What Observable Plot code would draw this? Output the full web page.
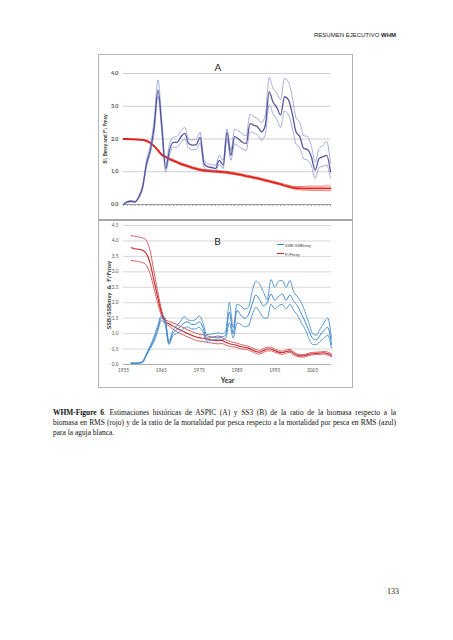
<!DOCTYPE html>
<html>
<head>
<meta charset="utf-8">
<script src="https://cdn.jsdelivr.net/npm/d3@7"></script>
<script src="https://cdn.jsdelivr.net/npm/@observablehq/plot@0.6"></script>
<style>
  html, body { margin:0; padding:0; background:#fff; }
  body { width:453px; height:640px; position:relative; overflow:hidden; }
  .abs { position:absolute; }
  #header { right:57px; top:32px; font-family:"Liberation Sans", Arial, sans-serif; font-size:6px; color:#222; white-space:nowrap; }
  #frame { left:98px; top:54px; width:253px; height:332px; border:1px solid #b4b4b4; }
  #divider { left:98px; top:219px; width:255px; height:2px; background:#a8a8a8; }
  #panelA { left:98px; top:54px; }
  #panelB { left:98px; top:220px; }
  #legend { left:277px; top:240px; font-family:Lato, sans-serif; font-size:4.6px; color:#444; }
  .lg { display:flex; align-items:center; height:9px; }
  .lg span.sw { display:inline-block; width:7px; height:0; margin-right:1px; }
  #caption { left:53px; top:408px; width:343px; font-family:"Liberation Serif", "Times New Roman", serif; font-size:7.45px; line-height:10px; color:#111; }
  #caption div { text-align:justify; text-align-last:justify; white-space:nowrap; }
  #caption div.last { text-align-last:left; }
  #pagenum { left:387px; top:587px; font-family:"Liberation Serif", serif; font-size:8px; color:#222; }
</style>
</head>
<body>
<div id="header" class="abs">RESUMEN EJECUTIVO <b>WHM</b></div>
<div id="frame" class="abs"></div>
<div id="panelA" class="abs"></div>
<div id="panelB" class="abs"></div>
<div id="divider" class="abs"></div>
<div id="legend" class="abs"></div>
<div id="caption" class="abs"></div>
<div id="pagenum" class="abs">133</div>
<script>
// ---------- Panel A (ASPIC) ----------
const firstYearA = 1956, lastYearA = 2010;
const titleA = "A";
const yLabelA = "B\\ Bmsy and F\\ Fmsy";
const yTicksA = [0, 1, 2, 3, 4];
const bioA = [0.0,0.08,0.1,0.08,0.23,0.54,1.25,1.66,2.37,3.49,
  2.37,1.1,1.66,1.9,1.9,2.07,2.17,1.86,1.81,1.83,
  2.05,1.25,1.15,1.13,1.1,1.35,1.2,2.2,1.5,2.07,
  2.0,1.9,1.86,2.47,2.42,2.37,2.22,2.42,3.44,3.13,
  2.96,2.73,3.29,3.2,2.78,2.22,2.07,1.71,1.68,1.46,
  1.05,1.4,1.46,1.5,1.0];
const bioAHi = [0.02,0.1,0.12,0.1,0.27,0.6,1.35,1.8,2.6,3.8,
  2.55,1.2,1.85,2.05,2.08,2.25,2.35,2.0,1.97,2.0,
  2.2,1.35,1.25,1.22,1.2,1.5,1.35,2.3,1.65,2.3,
  2.25,2.15,2.1,2.75,2.68,2.62,2.5,2.75,3.88,3.55,
  3.4,3.2,3.85,3.75,3.3,2.65,2.5,2.1,2.08,1.8,
  1.3,1.7,1.8,1.92,1.25];
const bioALo = [0.0,0.06,0.08,0.06,0.2,0.48,1.15,1.55,2.2,3.3,
  2.2,1.0,1.5,1.75,1.75,1.9,2.0,1.72,1.67,1.68,
  1.88,1.15,1.05,1.05,1.02,1.22,1.1,2.0,1.35,1.85,
  1.78,1.7,1.65,2.22,2.18,2.12,1.97,2.15,3.05,2.78,
  2.6,2.35,2.85,2.75,2.35,1.85,1.72,1.4,1.35,1.18,
  0.8,1.12,1.17,1.2,0.78];
const fA = [2.0,2.0,1.99,1.99,1.98,1.97,1.94,1.88,1.78,1.65,
  1.52,1.45,1.39,1.34,1.29,1.24,1.2,1.16,1.12,1.09,
  1.06,1.04,1.03,1.02,1.01,1.0,0.99,0.98,0.96,0.94,
  0.92,0.9,0.87,0.85,0.82,0.8,0.77,0.74,0.71,0.68,
  0.65,0.62,0.58,0.55,0.52,0.5,0.5,0.49,0.49,0.49,
  0.49,0.49,0.49,0.49,0.49];
const fAHi = [2.01,2.01,2.0,2.0,1.99,1.98,1.96,1.9,1.8,1.68,
  1.55,1.48,1.42,1.37,1.32,1.27,1.23,1.19,1.15,1.12,
  1.09,1.07,1.06,1.05,1.04,1.03,1.02,1.01,0.99,0.97,
  0.95,0.93,0.9,0.88,0.85,0.83,0.8,0.77,0.74,0.71,
  0.68,0.65,0.62,0.59,0.56,0.55,0.55,0.55,0.56,0.56,
  0.56,0.56,0.56,0.57,0.57];
const fALo = [1.99,1.99,1.98,1.98,1.97,1.96,1.92,1.86,1.76,1.62,
  1.49,1.42,1.36,1.31,1.26,1.21,1.17,1.13,1.09,1.06,
  1.03,1.01,1.0,0.99,0.98,0.97,0.96,0.95,0.93,0.91,
  0.89,0.87,0.84,0.82,0.79,0.77,0.74,0.71,0.68,0.65,
  0.62,0.59,0.56,0.52,0.49,0.46,0.45,0.44,0.44,0.43,
  0.43,0.43,0.43,0.42,0.42];

// ---------- Panel B (SS3) ----------
const firstYearB = 1957, lastYearB = 2010;
const titleB = "B";
const yLabelB = "SSB/SSBmsy  &  F/Fmsy";
const xLabelB = "Year";
const yTicksB = [0, 0.5, 1, 1.5, 2, 2.5, 3, 3.5, 4, 4.5];
const xTicksB = [1955, 1965, 1975, 1985, 1995, 2005];
const seriesNamesB = ["SSB/SSBmsy", "F/Fmsy"];
const ssbB = [0.04,0.04,0.05,0.08,0.3,0.55,0.8,1.15,1.5,1.4,
  0.7,1.0,1.12,1.22,1.35,1.38,1.3,1.3,1.38,1.2,
  0.85,0.87,0.9,0.92,0.9,0.95,1.7,1.0,1.75,1.6,
  1.5,1.6,1.95,2.25,2.1,1.9,2.0,2.28,2.08,2.2,
  2.28,2.08,2.25,2.05,1.9,1.65,1.4,1.1,0.85,0.8,
  0.95,1.1,1.2,0.65];
const ssbBHi = [0.05,0.05,0.06,0.1,0.33,0.6,0.88,1.25,1.58,1.5,
  0.75,1.08,1.25,1.38,1.55,1.45,1.42,1.45,1.57,1.35,
  0.97,0.98,1.0,1.02,1.0,1.08,2.0,1.2,1.95,1.9,
  1.8,1.85,2.35,2.7,2.6,2.35,2.1,2.75,2.5,2.7,
  2.72,2.5,2.72,2.35,2.2,2.0,1.7,1.35,1.0,0.95,
  1.15,1.35,1.5,0.85];
const ssbBLo = [0.03,0.03,0.04,0.06,0.27,0.5,0.72,1.05,1.42,1.3,
  0.65,0.92,1.0,1.08,1.18,1.22,1.15,1.15,1.2,1.05,
  0.75,0.78,0.8,0.82,0.8,0.85,1.35,0.85,1.35,1.3,
  1.22,1.25,1.6,1.85,1.7,1.52,1.5,1.95,1.8,1.9,
  1.95,1.8,1.95,1.75,1.6,1.35,1.15,0.85,0.65,0.65,
  0.75,0.85,0.95,0.5];
const fB = [3.78,3.75,3.73,3.7,3.6,3.3,2.75,2.2,1.7,1.4,
  1.32,1.25,1.18,1.12,1.06,1.0,0.95,0.9,0.87,0.85,
  0.83,0.8,0.78,0.77,0.78,0.72,0.67,0.65,0.62,0.58,
  0.56,0.53,0.48,0.42,0.4,0.45,0.5,0.5,0.45,0.4,
  0.38,0.42,0.44,0.36,0.3,0.28,0.29,0.33,0.35,0.36,
  0.37,0.38,0.35,0.3];
const fBHi = [4.17,4.15,4.13,4.1,4.02,3.7,3.05,2.4,1.8,1.45,
  1.4,1.35,1.3,1.24,1.18,1.12,1.07,1.02,0.98,0.96,
  0.93,0.9,0.88,0.87,0.87,0.8,0.75,0.72,0.69,0.65,
  0.62,0.59,0.54,0.48,0.46,0.51,0.56,0.56,0.5,0.45,
  0.43,0.47,0.49,0.41,0.34,0.32,0.33,0.37,0.39,0.4,
  0.41,0.42,0.4,0.34];
const fBLo = [3.37,3.35,3.33,3.3,3.22,2.95,2.5,2.0,1.6,1.35,
  1.25,1.15,1.07,1.0,0.95,0.89,0.84,0.79,0.76,0.74,
  0.72,0.7,0.68,0.67,0.68,0.63,0.59,0.57,0.55,0.51,
  0.49,0.47,0.42,0.36,0.34,0.39,0.44,0.44,0.4,0.35,
  0.33,0.37,0.39,0.31,0.26,0.24,0.25,0.29,0.31,0.32,
  0.33,0.34,0.3,0.26];

// ---------- Texts ----------
const captionLines = [
  ["WHM-Figure 6", ". Estimaciones históricas de ASPIC (A) y SS3 (B) de la ratio de la biomasa respecto a la"],
  ["", "biomasa en RMS (rojo) y de la ratio de la mortalidad por pesca respecto a la mortalidad por pesca en RMS (azul)"],
  ["", "para la aguja blanca."]
];

// ---------- Build tables ----------
const yearsA = d3.range(firstYearA, lastYearA + 1);
const dataA = yearsA.map((year, i) => ({year, bio: bioA[i], bioHi: bioAHi[i], bioLo: bioALo[i], f: fA[i], fHi: fAHi[i], fLo: fALo[i]}));
const yearsB = d3.range(firstYearB, lastYearB + 1);
const dataB = yearsB.map((year, i) => ({year, ssb: ssbB[i], ssbHi: ssbBHi[i], ssbLo: ssbBLo[i], f: fB[i], fHi: fBHi[i], fLo: fBLo[i]}));

const blueA = "#54579c", blueAband = "#7f86c4", redA = "#e3221c";
const blueB = "#3b86c9", redB = "#c9252b";
const curve = "monotone-x";

const plotA = Plot.plot({
  width: 255, height: 166,
  marginLeft: 25, marginRight: 23, marginTop: 19, marginBottom: 16,
  style: {fontFamily: "Lato, sans-serif", fontSize: "5.4px", color: "#555", background: "transparent", overflow: "visible"},
  x: {domain: [firstYearA, lastYearA]},
  y: {domain: [0, 4]},
  marks: [
    Plot.gridY(yTicksA.slice(1), {stroke: "#cfcfcf", strokeOpacity: 1}),
    Plot.axisY(yTicksA, {tickFormat: d => d.toFixed(1), tickSize: 0, tickPadding: 5, label: null, fontWeight: "bold"}),
    Plot.axisX(yearsA, {tickFormat: () => "", tickSize: 2, label: null, stroke: "#9a9a9a"}),
    Plot.ruleY([0], {stroke: "#9a9a9a"}),
    Plot.line(dataA, {x: "year", y: "fHi", stroke: redA, strokeWidth: 0.7, strokeDasharray: "0.9,0.9", curve}),
    Plot.line(dataA, {x: "year", y: "fLo", stroke: redA, strokeWidth: 0.7, strokeDasharray: "0.9,0.9", curve}),
    Plot.line(dataA, {x: "year", y: "f", stroke: redA, strokeWidth: 1.8, curve}),
    Plot.line(dataA, {x: "year", y: "bioHi", stroke: blueAband, strokeWidth: 0.8, strokeDasharray: "1,1", curve}),
    Plot.line(dataA, {x: "year", y: "bioLo", stroke: blueAband, strokeWidth: 0.8, strokeDasharray: "1,1", curve}),
    Plot.line(dataA, {x: "year", y: "bio", stroke: blueA, strokeWidth: 1.3, curve}),
    Plot.text([titleA], {frameAnchor: "top", lineAnchor: "middle", dx: -9, dy: -6, fontSize: 10, fill: "#222"}),
    Plot.text([yLabelA], {frameAnchor: "left", textAnchor: "middle", dx: -18, rotate: -90, fontSize: 5.2, fontWeight: "bold", fill: "#333"})
  ]
});
document.getElementById("panelA").appendChild(plotA);

const plotB = Plot.plot({
  width: 255, height: 168,
  marginLeft: 25, marginRight: 22, marginTop: 5, marginBottom: 24,
  style: {fontFamily: "Lato, sans-serif", fontSize: "4.8px", color: "#555", background: "transparent", overflow: "visible"},
  x: {domain: [1955, lastYearB]},
  y: {domain: [0, 4.5]},
  marks: [
    Plot.gridY(yTicksB.slice(1), {stroke: "#d6d6d6", strokeOpacity: 1}),
    Plot.axisY(yTicksB, {tickFormat: d => d.toFixed(1), tickSize: 0, tickPadding: 5, label: null}),
    Plot.axisX(xTicksB, {tickFormat: "d", tickSize: 0, tickPadding: 4, label: null}),
    Plot.ruleY([0], {stroke: "#b0b0b0"}),
    Plot.line(dataB, {x: "year", y: "fHi", stroke: redB, strokeWidth: 0.8, strokeDasharray: "2,1", curve}),
    Plot.line(dataB, {x: "year", y: "fLo", stroke: redB, strokeWidth: 0.8, strokeDasharray: "2,1", curve}),
    Plot.line(dataB, {x: "year", y: "f", stroke: redB, strokeWidth: 1.1, curve}),
    Plot.line(dataB, {x: "year", y: "ssbHi", stroke: blueB, strokeWidth: 0.9, strokeDasharray: "2.5,1", curve}),
    Plot.line(dataB, {x: "year", y: "ssbLo", stroke: blueB, strokeWidth: 0.9, strokeDasharray: "2.5,1", curve}),
    Plot.line(dataB, {x: "year", y: "ssb", stroke: blueB, strokeWidth: 1, curve}),
    Plot.text([titleB], {frameAnchor: "top", lineAnchor: "middle", dx: -10, dy: 16, fontSize: 10, fill: "#222"}),
    Plot.text([yLabelB], {frameAnchor: "left", textAnchor: "middle", dx: -15, rotate: -90, fontSize: 6.4, fontWeight: "bold", fill: "#333"}),
    Plot.text([xLabelB], {frameAnchor: "bottom", lineAnchor: "middle", dy: 16, fontSize: 7, fontWeight: "bold", fill: "#333"})
  ]
});
document.getElementById("panelB").appendChild(plotB);

// legend
const legend = document.getElementById("legend");
[[seriesNamesB[0], blueB], [seriesNamesB[1], redB]].forEach(([name, color]) => {
  const row = document.createElement("div");
  row.className = "lg";
  const sw = document.createElement("span");
  sw.className = "sw";
  sw.style.borderTop = `1px solid ${color}`;
  row.appendChild(sw);
  row.appendChild(document.createTextNode(name));
  legend.appendChild(row);
});

// caption
const cap = document.getElementById("caption");
captionLines.forEach(([bold, rest], i) => {
  const d = document.createElement("div");
  if (i === captionLines.length - 1) d.className = "last";
  if (bold) { const b = document.createElement("b"); b.textContent = bold; d.appendChild(b); }
  d.appendChild(document.createTextNode(rest));
  cap.appendChild(d);
});
</script>
</body>
</html>
